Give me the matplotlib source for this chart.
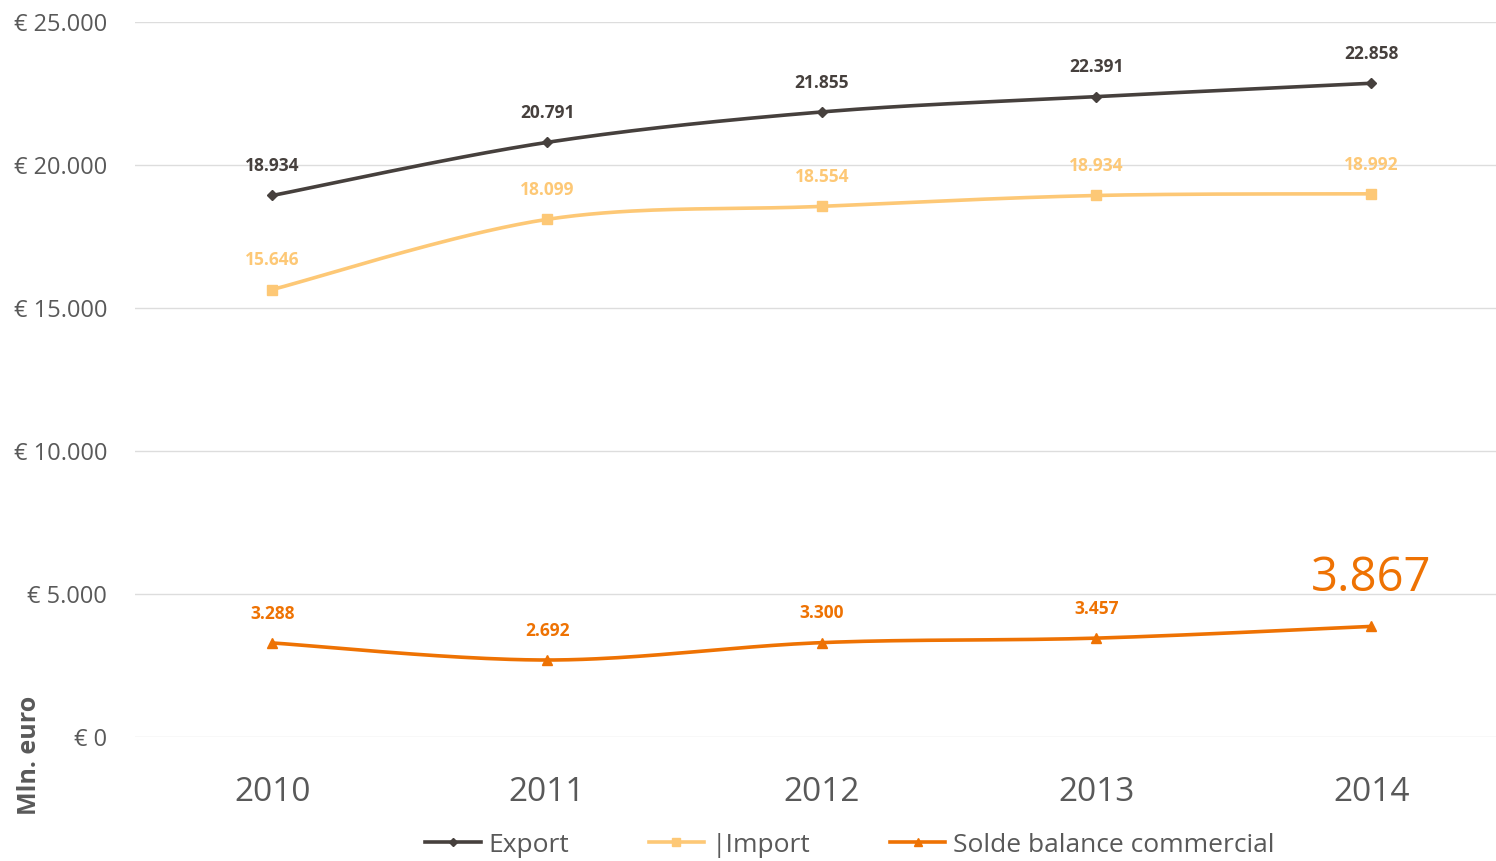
import numpy as np
import matplotlib.pyplot as plt
from matplotlib.lines import Line2D

years = ["2010", "2011", "2012", "2013", "2014"]
export = [18934, 20791, 21855, 22391, 22858]
imports = [15646, 18099, 18554, 18934, 18992]
solde = [3288, 2692, 3300, 3457, 3867]

col_export = "#46403D"
col_import = "#FDC876"
col_solde = "#EE7203"

plt.rcParams['font.family'] = ['Open Sans', 'DejaVu Sans']


def smooth(xs, ys, n=40):
    # Catmull-Rom style smoothing, like the "smoothed line" option in Excel
    xs = np.asarray(xs, float)
    ys = np.asarray(ys, float)
    px, py = [], []
    for i in range(len(xs) - 1):
        i0 = max(i - 1, 0)
        i3 = min(i + 2, len(xs) - 1)
        c1x = xs[i] + (xs[i + 1] - xs[i0]) / 6
        c1y = ys[i] + (ys[i + 1] - ys[i0]) / 6
        c2x = xs[i + 1] - (xs[i3] - xs[i]) / 6
        c2y = ys[i + 1] - (ys[i3] - ys[i]) / 6
        t = np.linspace(0, 1, n)
        bx = (1-t)**3*xs[i] + 3*(1-t)**2*t*c1x + 3*(1-t)*t**2*c2x + t**3*xs[i+1]
        by = (1-t)**3*ys[i] + 3*(1-t)**2*t*c1y + 3*(1-t)*t**2*c2y + t**3*ys[i+1]
        px.extend(bx)
        py.extend(by)
    return px, py


fig = plt.figure(figsize=(14.96, 8.61), dpi=100)
ax = fig.add_axes([135/1496, 1 - 737/861, 1373.5/1496, 715/861])

x = np.arange(len(years))
series = [
    (export, col_export, "D", 5, "Export"),
    (imports, col_import, "s", 7, "|Import"),
    (solde, col_solde, "^", 7, "Solde balance commercial"),
]
for vals, c, m, ms, lab in series:
    sx, sy = smooth(x, vals)
    ax.plot(sx, sy, color=c, lw=2.6, solid_capstyle="round", zorder=3)
    ax.plot(x, vals, ls="none", marker=m, ms=ms, color=c, zorder=4)

for i, v in enumerate(export):
    ax.annotate(f"{v:,}".replace(",", "."), (i, v), xytext=(0, 21), textcoords="offset points",
                ha="center", va="center", fontsize=12.5, fontweight="bold", color=col_export)
for i, v in enumerate(imports):
    ax.annotate(f"{v:,}".replace(",", "."), (i, v), xytext=(0, 21), textcoords="offset points",
                ha="center", va="center", fontsize=12.5, fontweight="bold", color=col_import)
for i, v in enumerate(solde):
    big = i == len(solde) - 1
    ax.annotate(f"{v:,}".replace(",", "."), (i, v), xytext=(0, 35 if big else 21),
                textcoords="offset points", ha="center", va="center",
                fontsize=34 if big else 12.5, fontweight="normal" if big else "bold", color=col_solde)

ax.set_xlim(-0.5, 4.5)
ax.set_ylim(0, 25000)
ax.set_yticks(range(0, 25001, 5000))
ax.set_yticklabels(["€ 0", "€ 5.000", "€ 10.000", "€ 15.000", "€ 20.000", "€ 25.000"])
ax.set_xticks(x)
ax.set_xticklabels(years)
ax.tick_params(axis="y", length=0, pad=20, labelsize=17, labelcolor="#595959")
ax.tick_params(axis="x", length=0, pad=28, labelsize=24, labelcolor="#595959")
ax.grid(axis="y", color="#DDDDDD", lw=1)
ax.set_axisbelow(True)
for s in ax.spines.values():
    s.set_visible(False)

fig.text(30/1496, 1 - 755/861, "Mln. euro", rotation=90, ha="center", va="center",
         fontsize=18, fontweight="bold", color="#595959")

handles = [Line2D([], [], color=c, lw=2.6, marker=m, ms=ms * 0.8) for _, c, m, ms, _ in series]
labels = [lab for *_, lab in series]
fig.legend(handles, labels, loc="center", bbox_to_anchor=(850/1496, 1 - 845/861), ncol=3,
           frameon=False, fontsize=19, labelcolor="#595959", handlelength=2.1,
           handletextpad=0.3, columnspacing=3.0)

fig.savefig("out.png", dpi=100)
